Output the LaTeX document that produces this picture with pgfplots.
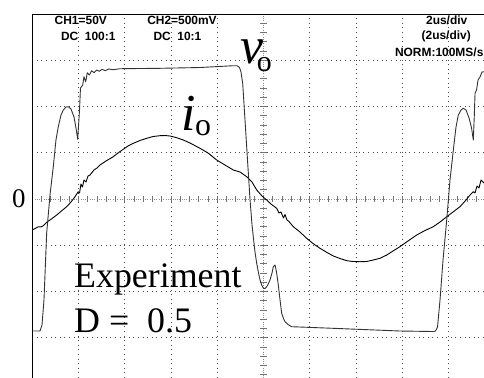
\documentclass[border=0pt]{standalone}
\usepackage{fontspec}
\setmainfont{Liberation Serif}
\newfontfamily\scopefont{Liberation Sans}
\usepackage{pgfplots}
\pgfplotsset{compat=1.18}
\begin{document}
\begin{tikzpicture}
\begin{axis}[
  scale only axis, width=484bp, height=378bp,
  xmin=-0.698, xmax=9.766, ymin=-3.870, ymax=4.303,
  axis line style={draw=none}, xtick=\empty, ytick=\empty,
  clip=true,
]
% dotted grid
\pgfplotsinvokeforeach{1,2,3,4,6,7,8,9}{
  \draw[black!70, line width=0.9bp, dash pattern=on 0.9bp off 3.7bp] (axis cs:#1,-3.87) -- (axis cs:#1,4);
}
\pgfplotsinvokeforeach{-3,-2,-1,1,2,3}{
  \draw[black!70, line width=0.9bp, dash pattern=on 0.9bp off 3.7bp] (axis cs:0,#1) -- (axis cs:9.766,#1);
}
% centre lines with ticks
\draw[black!45, line width=0.9bp, dash pattern=on 1bp off 1.3bp] (axis cs:0,0) -- (axis cs:9.766,0);
\draw[black!45, line width=0.9bp, dash pattern=on 1bp off 1.3bp] (axis cs:5,-3.87) -- (axis cs:5,4);
\pgfplotsinvokeforeach{0.2,0.4,...,9.8}{
  \draw[black!55, line width=0.8bp] (axis cs:#1,-0.06) -- (axis cs:#1,0.06);
}
\pgfplotsinvokeforeach{-3.8,-3.6,...,3.8}{
  \draw[black!55, line width=0.8bp] (axis cs:4.93,#1) -- (axis cs:5.07,#1);
}
% frame
\draw[black, line width=1bp] (axis cs:0,-3.87) -- (axis cs:0,4) -- (axis cs:9.766,4);

% i_o
\addplot[black, line width=0.9bp, line join=round] coordinates {
(0,-0.670) (0.080,-0.627) (0.130,-0.599) (0.188,-0.605) (0.238,-0.577) (0.318,-0.497)
(0.383,-0.454) (0.528,-0.346) (0.642,-0.249) (0.744,-0.166) (0.837,-0.065) (0.923,0.050)
(0.995,0.158) (1.021,0.130) (1.053,0.324) (1.085,0.259) (1.118,0.411) (1.161,0.368)
(1.204,0.497) (1.248,0.519) (1.334,0.627) (1.399,0.670) (1.464,0.735) (1.594,0.822)
(1.751,0.915) (1.853,0.995) (1.968,1.075) (2.069,1.146) (2.184,1.204) (2.329,1.265)
(2.474,1.312) (2.610,1.351) (2.761,1.369) (2.869,1.373) (2.977,1.362) (3.107,1.330)
(3.265,1.276) (3.410,1.211) (3.626,1.096) (3.799,0.995) (3.987,0.843) (4.166,0.735)
(4.346,0.627) (4.491,0.584) (4.636,0.482) (4.750,0.368) (4.852,0.195) (4.966,0.065)
(5.068,-0.022) (5.161,-0.108) (5.284,-0.201) (5.334,-0.303) (5.377,-0.281) (5.431,-0.411)
(5.464,-0.335) (5.507,-0.454) (5.550,-0.486) (5.643,-0.599) (5.788,-0.714) (5.933,-0.850)
(6.069,-0.962) (6.220,-1.066) (6.372,-1.157) (6.508,-1.232) (6.653,-1.286) (6.798,-1.334)
(6.934,-1.351) (7.085,-1.356) (7.230,-1.351) (7.373,-1.319) (7.518,-1.282) (7.663,-1.211)
(7.799,-1.124) (7.950,-1.030) (8.123,-0.908) (8.311,-0.778) (8.491,-0.681) (8.670,-0.599)
(8.815,-0.497) (8.960,-0.383) (9.096,-0.281) (9.248,-0.166) (9.377,-0.022) (9.464,0.086)
(9.535,0.158) (9.572,0.130) (9.615,0.281) (9.658,0.238) (9.702,0.411) (9.766,0.346)
};

% v_o
\addplot[black!80, line width=0.9bp, line join=round] coordinates {
(0.022,-2.854) (0.166,-2.854) (0.210,-2.724) (0.253,-2.184) (0.311,-0.735) (0.383,0.086)
(0.454,0.698) (0.512,1.276) (0.562,1.563) (0.621,1.816) (0.670,1.924) (0.729,1.989)
(0.778,1.996) (0.837,1.946) (0.902,1.773) (0.945,1.535) (0.982,1.291) (1.021,1.924)
(1.042,2.400) (1.090,2.465) (1.118,2.644) (1.155,2.536) (1.189,2.731) (1.232,2.681)
(1.284,2.774) (1.334,2.731) (1.392,2.789) (1.449,2.761) (1.507,2.804) (1.578,2.774)
(1.652,2.811) (1.751,2.796) (1.896,2.817) (2.761,2.826) (3.626,2.843) (4.346,2.882)
(4.426,2.882) (4.480,2.843) (4.512,2.746) (4.549,2.502) (4.599,1.708) (4.653,0.843)
(4.708,-0.022) (4.751,-0.562) (4.778,-0.815) (4.815,-1.146) (4.852,-1.390) (4.891,-1.600)
(4.924,-1.751) (4.960,-1.859) (4.995,-1.931) (5.032,-1.935) (5.068,-1.896) (5.107,-1.827)
(5.139,-1.751) (5.183,-1.600) (5.211,-1.464) (5.248,-1.427) (5.280,-1.578) (5.319,-1.859)
(5.356,-2.184) (5.392,-2.471) (5.431,-2.584) (5.464,-2.653) (5.529,-2.714) (5.609,-2.761)
(6.508,-2.796) (7.950,-2.854) (8.670,-2.865) (8.718,-2.854) (8.761,-2.768) (8.815,-2.184)
(8.880,-1.319) (8.960,-0.454) (9.031,0.411) (9.103,1.059) (9.161,1.557) (9.211,1.816)
(9.269,1.924) (9.319,1.961) (9.378,1.924) (9.443,1.751) (9.497,1.535) (9.535,1.276)
(9.557,1.816) (9.572,2.285) (9.605,2.357) (9.637,2.573) (9.680,2.638) (9.723,2.746)
(9.766,2.752)
};

% labels
\node[anchor=center, inner sep=0pt, font=\fontsize{27}{27}\selectfont] at (axis cs:-0.288,0) {0};
\node[anchor=base west, inner sep=0pt, font=\fontsize{36}{36}\selectfont] at (axis cs:0.902,-1.924) {Experiment};
\node[anchor=base west, inner sep=0pt, font=\fontsize{36}{36}\selectfont] at (axis cs:0.902,-2.876) {D =\ \ 0.5};
\node[anchor=base west, inner sep=0pt] at (axis cs:4.491,2.934) {\fontsize{52}{52}\selectfont\itshape v\kern-0.12em\raisebox{-0.16em}{\upshape\fontsize{30}{30}\selectfont o}};
\node[anchor=base west, inner sep=0pt] at (axis cs:3.230,1.492) {\fontsize{52}{52}\selectfont\itshape i\kern-0.02em\raisebox{-0.1em}{\upshape\fontsize{32}{32}\selectfont o}};
% scope header
\begin{scope}[every node/.style={inner sep=0pt, font=\scopefont\bfseries\fontsize{12}{12}\selectfont}]
\node at (axis cs:1.049,3.870) {CH1=50V};
\node at (axis cs:1.211,3.524) {DC\ \ 100:1};
\node at (axis cs:3.237,3.870) {CH2=500mV};
\node at (axis cs:3.139,3.524) {DC\ \ 10:1};
\node at (axis cs:8.960,3.870) {2us/div};
\node at (axis cs:8.949,3.524) {(2us/div)};
\node at (axis cs:8.798,3.168) {NORM:100MS/s};
\end{scope}
\end{axis}
\pgfresetboundingbox
\useasboundingbox (current axis.south west) rectangle (current axis.north east);
\end{tikzpicture}
\end{document}
